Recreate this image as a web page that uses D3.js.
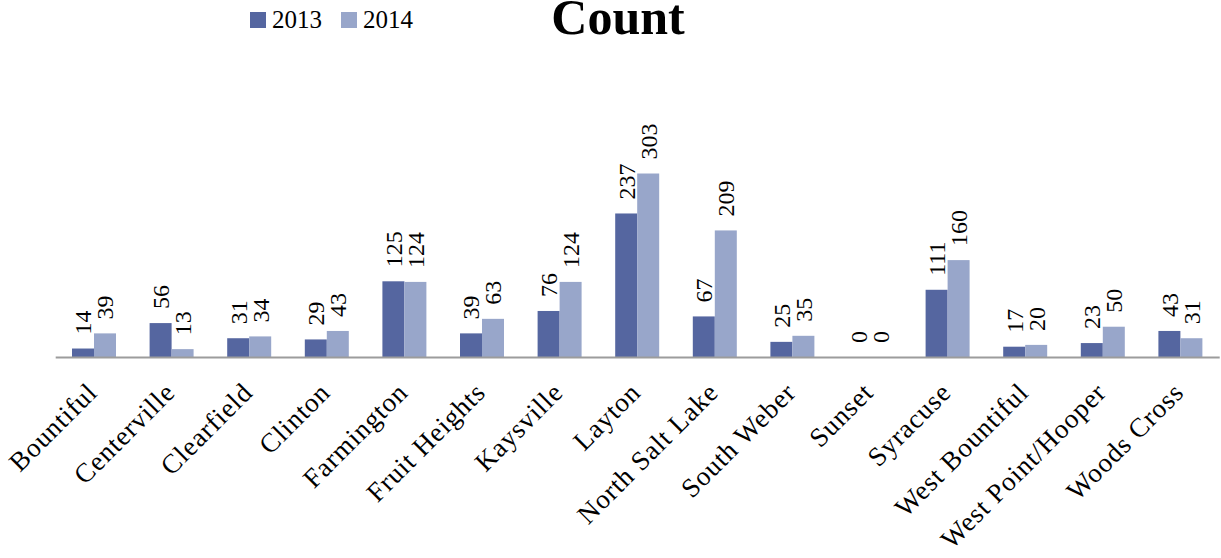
<!DOCTYPE html>
<html><head><meta charset="utf-8">
<script src="https://cdn.jsdelivr.net/npm/d3@7"></script>
<style>body{margin:0;background:#fff}svg{display:block}</style>
</head><body><svg id="c" width="1221" height="558"></svg>
<script>
const categories = ["Bountiful","Centerville","Clearfield","Clinton","Farmington","Fruit Heights","Kaysville","Layton","North Salt Lake","South Weber","Sunset","Syracuse","West Bountiful","West Point/Hooper","Woods Cross"];
const series = ["2013","2014"];
const values2013 = [14,56,31,29,125,39,76,237,67,25,0,111,17,23,43];
const values2014 = [39,13,34,43,124,63,124,303,209,35,0,160,20,50,31];
const colors = ["#5566a0","#98a6ca"];
const titleText = "Count";

const svg = d3.select("#c");
const baseY = 357;
const y = d3.scaleLinear().domain([0,350]).range([baseY, baseY - 350*0.6056]);
const x0 = d3.scaleBand().domain(categories).range([55.2,1219.2]).padding(0);
const x1 = d3.scaleBand().domain(series).range([0, x0.bandwidth()]).paddingInner(0).paddingOuter(0.764);
const color = d3.scaleOrdinal().domain(series).range(colors);

const rows = categories.map((c,i)=>({cat:c, vals:[{s:"2013",v:values2013[i]},{s:"2014",v:values2014[i]}]}));

const g = svg.append("g");
const grp = g.selectAll("g.cat").data(rows).join("g").attr("class","cat")
  .attr("transform", d=>`translate(${x0(d.cat)},0)`);
grp.selectAll("rect").data(d=>d.vals).join("rect")
  .attr("x", d=>x1(d.s)).attr("width", x1.bandwidth())
  .attr("y", d=>y(d.v)).attr("height", d=>y(0)-y(d.v))
  .attr("fill", d=>color(d.s));
grp.selectAll("text").data(d=>d.vals).join("text")
  .attr("transform", d=>`translate(${x1(d.s)+x1.bandwidth()/2},${y(d.v)-14}) rotate(-90)`)
  .attr("dy","0.35em")
  .attr("text-anchor","start")
  .style("font-family","'Liberation Serif', serif").style("font-size","24px").attr("fill","#000")
  .text(d=>d.v);

// axis
const ax = svg.append("g").attr("transform",`translate(0,${baseY})`)
  .call(d3.axisBottom(x0).tickSize(0).tickPadding(0));
ax.select(".domain").attr("stroke","#9c9c9c").attr("stroke-width",2);
ax.selectAll(".tick text")
  .attr("y",0).attr("dy",0)
  .attr("text-anchor","end")
  .attr("transform","translate(5,37) rotate(-45)")
  .style("font-family","'Liberation Serif', serif").style("font-size","27px").style("letter-spacing","0.9px")
  .attr("fill","#000");

// title
svg.append("text").attr("x",618).attr("y",34).attr("text-anchor","middle")
  .style("font-family","'Liberation Serif', serif").style("font-size","50px").style("font-weight","bold")
  .text(titleText);

// legend
const legX = [250, 341];
const leg = svg.append("g").selectAll("g").data(series).join("g")
  .attr("transform",(d,i)=>`translate(${legX[i]},12)`);
leg.append("rect").attr("width",16).attr("height",16).attr("fill",d=>color(d));
leg.append("text").attr("x",22).attr("y",16)
  .style("font-family","'Liberation Serif', serif").style("font-size","25px").text(d=>d);
</script></body></html>
